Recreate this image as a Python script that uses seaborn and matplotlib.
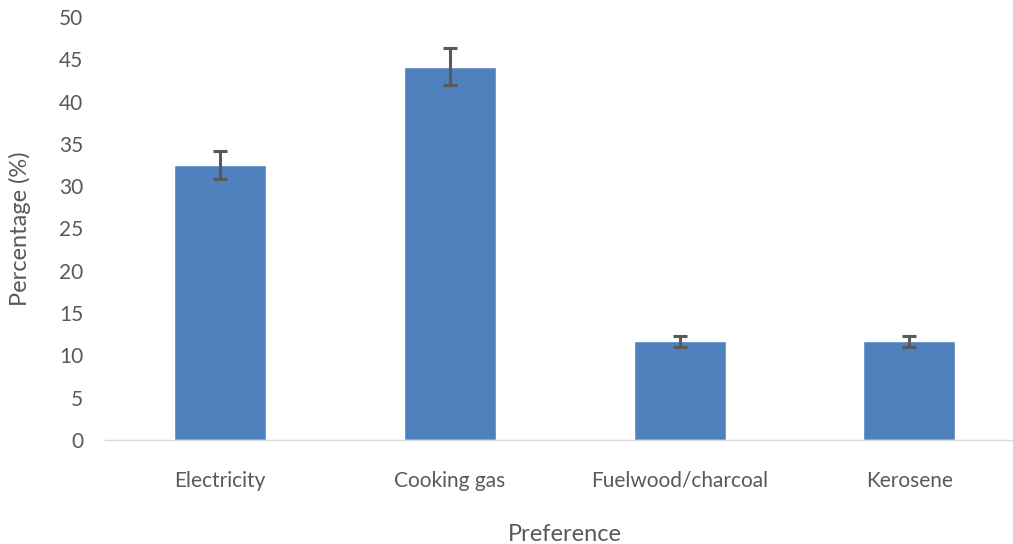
import pandas as pd
import matplotlib.pyplot as plt
import seaborn as sns

# values
categories = ["Electricity", "Cooking gas", "Fuelwood/charcoal", "Kerosene"]
percentages = [32.5, 44.1, 11.7, 11.7]
errors = [1.65, 2.2, 0.65, 0.65]

df = pd.DataFrame({"Preference": categories, "Percentage": percentages})

sns.set_style("white")
plt.rcParams['font.family'] = ['Lato', 'DejaVu Sans']

fig = plt.figure(figsize=(10.13, 5.44), dpi=100)
ax = fig.add_axes([0.104, 0.191, 0.907, 0.778])

sns.barplot(data=df, x="Preference", y="Percentage", color="#4F81BD",
            saturation=1, width=0.4, errorbar=None, ax=ax)
ax.errorbar(range(len(categories)), df["Percentage"], yerr=errors, fmt="none",
            ecolor="#595959", elinewidth=2.2, capsize=5, capthick=2.2)

ax.set_ylim(0, 50)
ax.set_yticks(range(0, 51, 5))
ax.set_xlim(-0.5, 3.5)

for s in ["top", "right", "left"]:
    ax.spines[s].set_visible(False)
ax.spines["bottom"].set_color("#d9d9d9")
ax.spines["bottom"].set_linewidth(1)

ax.tick_params(axis="both", length=0, labelsize=15, colors="#595959")
ax.tick_params(axis="y", pad=16)
ax.tick_params(axis="x", pad=22)
ax.set_xlabel("Preference", fontsize=17, color="#595959", labelpad=24)
ax.set_ylabel("Percentage (%)", fontsize=17, color="#595959", va="center")
ax.yaxis.set_label_coords(-0.093, 0.5)

fig.savefig("out.png", dpi=100)
